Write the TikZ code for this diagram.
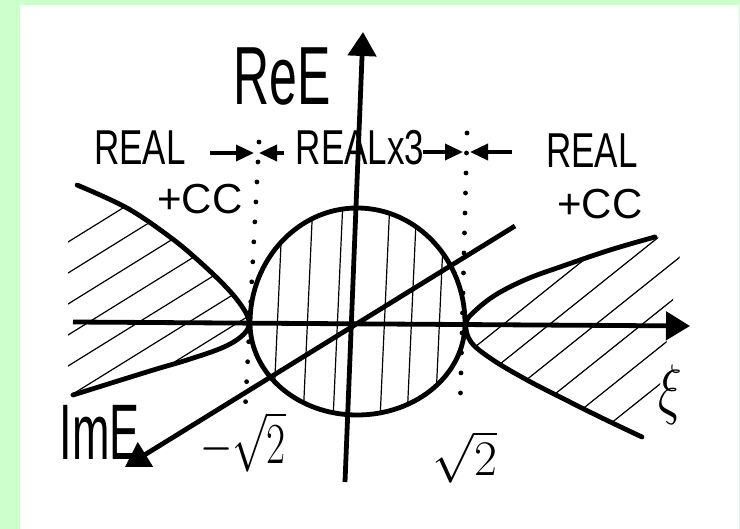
\documentclass[tikz,border=0pt]{standalone}
\usepackage{fontspec}
\setmainfont{Liberation Sans}
\usepackage{tikz}
\usetikzlibrary{arrows.meta}

\definecolor{pagegreen}{RGB}{204,255,204}

\tikzset{
  curve/.style={line width=2.4pt, line cap=round},
  axis/.style={line width=2.4pt, -{Triangle[length=12pt,width=14pt]}},
  hatch/.style={line width=0.6pt},
  dotline/.style={line width=2.4pt, line cap=round, dash pattern=on 0pt off 10pt},
  tip/.style={line width=1.8pt, -{Triangle[length=9pt,width=8pt]}},
  hand/.style={font=\fontsize{17.5}{20}\selectfont, inner sep=0pt},
}

% stretch hand lettering upwards
\newcommand{\tall}[2][1.4]{\scalebox{1}[#1]{#2}}

\begin{document}
\begin{tikzpicture}[x=0.5pt, y=-0.5pt]

    % Page
    \useasboundingbox (0,0) rectangle (740,529);
    \fill[pagegreen] (0,0) rectangle (740,529);
    \fill[white] (20,5) rectangle (739,529);

    % Boundary curves
    \def\leftbranch{plot[smooth, tension=0.6] coordinates {(77,185) (127,208) (170,237) (200,262) (227,288) (243,308) (249,322) (244,334) (224,347) (187,360) (150,371) (73,395)}}
    \def\rightbranch{plot[smooth, tension=0.6] coordinates {(655,237) (610,250) (560,267) (527,279) (497,294) (476,310) (466,323) (471,342) (493,360) (527,380) (560,397) (600,417) (642,437)}}
    \def\egg{(357,208) .. controls (417,208) and (465,260) .. (465,323)
        .. controls (465,374) and (417,415) .. (357,415)
        .. controls (298,415) and (250,374) .. (250,323)
        .. controls (250,260) and (298,208) .. (357,208) -- cycle}

    % Hatching
    \begin{scope}
        \clip \leftbranch -- (68,395) -- (68,185) -- cycle;
        \foreach \c in {247,278,...,500}
            \draw[hatch] (60,\c) -- ++(200,-124);
    \end{scope}
    \begin{scope}
        \clip \rightbranch -- (652,437) -- (682,242) -- cycle;
        \foreach \c in {727,764,...,915}
            \draw[hatch] (460,{\c-368}) -- ++(240,-192);
    \end{scope}
    \begin{scope}
        \clip \egg;
        \foreach \t/\b in {283/273, 313/303, 343/333, 390/380, 417/407, 445/435}
            \draw[hatch] (\t,200) -- (\b,420);
    \end{scope}

    \draw[curve] \leftbranch;
    \draw[curve] \rightbranch;
    \draw[curve] \egg;

    % Axes
    \coordinate (vbot) at (345,482);
    \coordinate (vtop) at (363,32);
    \coordinate (hleft) at (73,322);
    \coordinate (hright) at (690,326);
    \coordinate (dtop) at (515,226);
    \coordinate (dbot) at (125,467);
    \draw[axis] (vbot) -- (vtop);
    \draw[axis] (hleft) -- (hright);
    \draw[axis] (dtop) -- (dbot);

    % Branch points +-sqrt2
    \draw[dotline] (259,142) -- (245,413);
    \draw[dotline] (467,133) -- (460,412);

    % Labels
    \node[hand] (reE) at (282,77) {\tall[1.65]{\fontsize{25}{28}\selectfont ReE}};
    \node[hand] (realL) at (140,148) {\tall{REAL}};
    \node[hand] (realM) at (360,148) {\tall{REALx3}};
    \node[hand] (realR) at (592,151) {\tall{REAL}};
    \node[hand] (ccL) at (200,199) {\fontsize{21}{24}\selectfont +CC};
    \node[hand] (ccR) at (600,204) {\fontsize{21}{24}\selectfont +CC};
    \node[hand] (imE) at (100,432) {\tall[1.75]{\fontsize{22.5}{26}\selectfont ImE}};
    \node[hand] (mroot) at (243,442) {\tall{\fontsize{20}{24}\selectfont $-\sqrt{2}$}};
    \node[hand] (proot) at (465,457) {\fontsize{24}{28}\selectfont $\sqrt{2}$};
    \node[hand] (xi) at (670,395) {\tall[1.35]{\fontsize{26}{30}\selectfont $\xi$}};

    % Arrows onto the dotted lines
    \coordinate (aL1) at (210,153);
    \coordinate (tL1) at (254,153);
    \coordinate (aL2) at (284,153);
    \coordinate (tL2) at (259,153);
    \coordinate (aR1) at (423,152);
    \coordinate (tR1) at (463,152);
    \coordinate (aR2) at (512,152);
    \coordinate (tR2) at (470,152);
    \draw[tip] (aL1) -- (tL1);
    \draw[tip] (aL2) -- (tL2);
    \draw[tip] (aR1) -- (tR1);
    \draw[tip] (aR2) -- (tR2);

\end{tikzpicture}
\end{document}
